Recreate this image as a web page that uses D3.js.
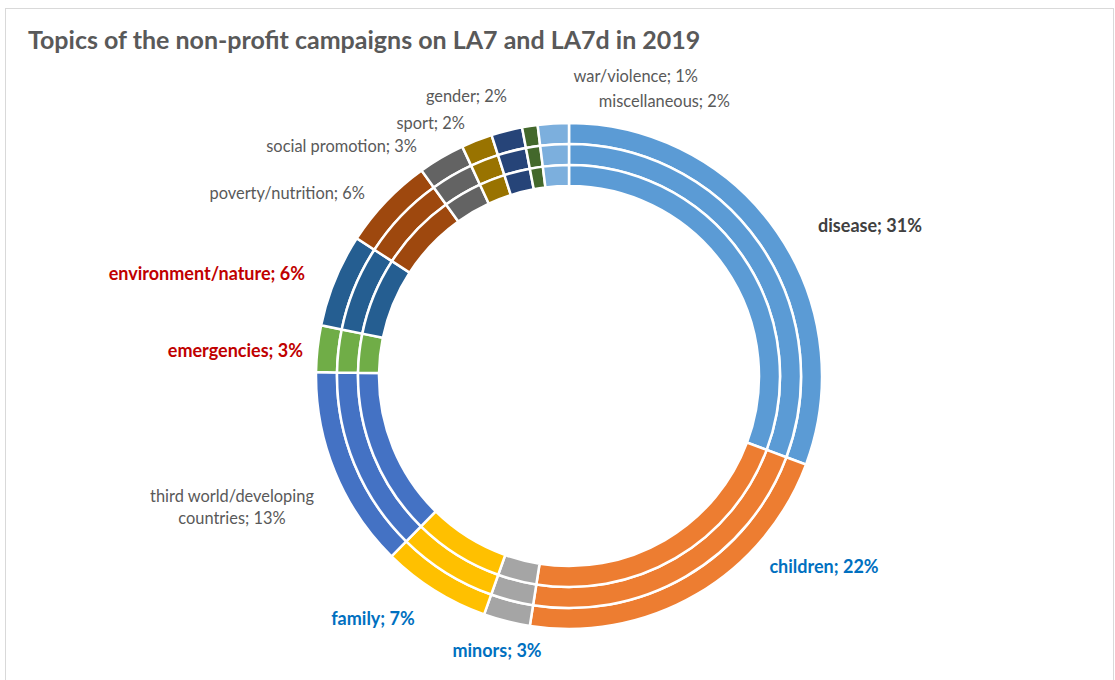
<!DOCTYPE html>
<html>
<head>
<meta charset="utf-8">
<script src="https://cdn.jsdelivr.net/npm/d3@7"></script>
<style>
  body { margin: 0; background: #fff; }
</style>
</head>
<body>
<div id="chart"></div>
<script>
// ******************************** DATA ***************************************
var categories = ["disease", "children", "minors", "family",
  "third world/developing countries", "emergencies", "environment/nature",
  "poverty/nutrition", "social promotion", "sport", "gender",
  "war/violence", "miscellaneous"];

// share of campaigns, percent (same on each ring)
var values = [31, 22, 3, 7, 13, 3, 6, 6, 3, 2, 2, 1, 2];

// label texts as shown on the chart
var labelText = ["disease; 31%", "children; 22%", "minors; 3%", "family; 7%",
  "third world/developing|countries; 13%", "emergencies; 3%",
  "environment/nature; 6%", "poverty/nutrition; 6%", "social promotion; 3%",
  "sport; 2%", "gender; 2%", "war/violence; 1%", "miscellaneous; 2%"];

// three rings (LA7, LA7d, total)
var rings = ["outer", "middle", "inner"];

// ******************************** STYLE **************************************
var colors = ["#5B9BD5", "#ED7D31", "#A5A5A5", "#FFC000", "#4472C4", "#70AD47",
  "#255E91", "#9E480E", "#636363", "#997300", "#264478", "#43682B", "#7CAFDD"];

// label emphasis: [fill, weight]
var labelStyle = {
  "disease": ["#404040", "bold"],
  "children": ["#0070C0", "bold"],
  "minors": ["#0070C0", "bold"],
  "family": ["#0070C0", "bold"],
  "emergencies": ["#C00000", "bold"],
  "environment/nature": ["#C00000", "bold"]
};

// label anchor points (text centre) and alignment
var labelPos = {
  "disease": [870, 227, "middle"],
  "children": [824, 568, "middle"],
  "minors": [497, 652, "middle"],
  "family": [373, 620, "middle"],
  "third world/developing countries": [232, 498, "middle"],
  "emergencies": [303, 352, "end"],
  "environment/nature": [305, 275, "end"],
  "poverty/nutrition": [365, 195, "end"],
  "social promotion": [417, 148, "end"],
  "sport": [465, 125, "end"],
  "gender": [507, 98, "end"],
  "war/violence": [698, 78, "end"],
  "miscellaneous": [730, 103, "end"]
};

// ******************************** CANVAS *************************************
var svgWidth = 1115,
    svgHeight = 680;

var svg = d3.select("#chart")
  .append("svg")
    .attr("width", svgWidth)
    .attr("height", svgHeight)
    .style("font-family", "Lato, 'Open Sans', sans-serif");

// chart frame
svg.append("rect")
  .attr("x", 5.5)
  .attr("y", 8.5)
  .attr("width", 1108)
  .attr("height", 680)
  .attr("fill", "none")
  .attr("stroke", "#D9D9D9");

svg.append("text")
  .attr("x", 28)
  .attr("y", 49)
  .attr("fill", "#595959")
  .style("font-size", "25px")
  .style("font-weight", "bold")
  .text("Topics of the non-profit campaigns on LA7 and LA7d in 2019");

// ******************************** DONUT **************************************
var cx = 569, cy = 376;
var outerR = 253, ringWidth = 21;

var pie = d3.pie().sort(null).value(d => d.value);
var data = categories.map((c, i) => ({name: c, value: values[i], color: colors[i]}));
var arcs = pie(data);

var chart = svg.append("g")
  .attr("transform", `translate(${cx}, ${cy})`);

rings.forEach(function(ring, r) {
  var arc = d3.arc()
    .outerRadius(outerR - r * ringWidth)
    .innerRadius(outerR - (r + 1) * ringWidth);

  chart.append("g")
    .attr("class", "ring-" + ring)
    .selectAll("path")
    .data(arcs)
    .enter()
    .append("path")
      .attr("d", arc)
      .attr("fill", d => d.data.color)
      .attr("stroke", "#fff")
      .attr("stroke-width", 2.5)
      .attr("stroke-linejoin", "miter");
});

// ******************************** LABELS *************************************
categories.forEach(function(c, i) {
  var st = labelStyle[c] || ["#595959", "normal"];
  var pos = labelPos[c];
  var lines = labelText[i].split("|");
  var t = svg.append("text")
    .attr("x", pos[0])
    .attr("y", pos[1])
    .attr("text-anchor", pos[2])
    .attr("dominant-baseline", "middle")
    .attr("fill", st[0])
    .style("font-size", st[1] === "bold" ? "18px" : "16.4px")
    .style("font-weight", st[1]);
  lines.forEach(function(l, k) {
    t.append("tspan")
      .attr("x", pos[0])
      .attr("dy", k === 0 ? 0 : 22)
      .text(l);
  });
});
</script>
</body>
</html>
